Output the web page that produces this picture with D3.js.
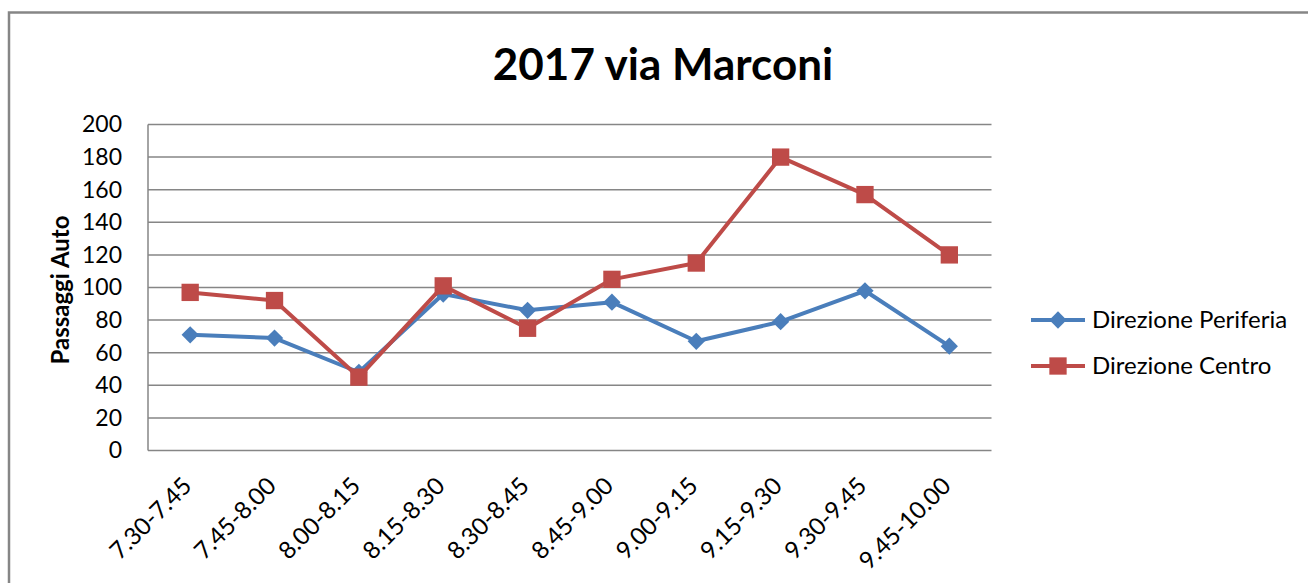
<!DOCTYPE html>
<html><head><meta charset="utf-8">
<script src="https://cdn.jsdelivr.net/npm/d3@7"></script>
<style>body{margin:0;background:#fff;}svg{display:block;}text{font-family:Lato,"Open Sans",sans-serif;fill:#000;}</style>
</head><body><svg id="c" width="1308" height="583"></svg>
<script>
const categories = ["7.30-7.45","7.45-8.00","8.00-8.15","8.15-8.30","8.30-8.45","8.45-9.00","9.00-9.15","9.15-9.30","9.30-9.45","9.45-10.00"];
const periferia = [71,69,48,96,86,91,67,79,98,64];
const centro = [97,92,45,101,75,105,115,180,157,120];
const seriesNames = ["Direzione Periferia","Direzione Centro"];
const yTicks = [0,20,40,60,80,100,120,140,160,180,200];
const colors = ["#4A7EBB","#BE4B48"];
const titleText = "2017 via Marconi";
const yLabel = "Passaggi Auto";

const svg = d3.select("#c");
svg.append("rect").attr("x",9).attr("y",12.5).attr("width",1320).attr("height",600)
  .attr("fill","none").attr("stroke","#868686").attr("stroke-width",2.5);

const L=148, R=991.5, T=124.5, B=450.5;
const x = d3.scaleBand().domain(categories).range([L,R]);
const y = d3.scaleLinear().domain([0,200]).range([B,T]);

svg.append("text").attr("x",663).attr("y",80).attr("text-anchor","middle")
  .style("font-size","44px").style("font-weight","bold").text(titleText);

// gridlines
svg.append("g").selectAll("line").data(yTicks).join("line")
  .attr("x1",L).attr("x2",R).attr("y1",d=>y(d)).attr("y2",d=>y(d))
  .attr("stroke","#868686").attr("stroke-width",1.5);
svg.append("line").attr("x1",L).attr("x2",L).attr("y1",T).attr("y2",B).attr("stroke","#868686").attr("stroke-width",1.5);

// y axis
const ya = svg.append("g").attr("transform",`translate(${L},0)`).call(d3.axisLeft(y).tickValues(yTicks).tickSize(0).tickPadding(26));
ya.select(".domain").remove();
ya.selectAll("text").style("font-size","23px").style("font-family","Lato");

svg.append("text").attr("transform","translate(69,290) rotate(-90)").attr("text-anchor","middle")
  .style("font-size","24px").style("font-weight","bold").text(yLabel);

// x axis labels
const xa = svg.append("g").attr("transform",`translate(0,${B})`).call(d3.axisBottom(x).tickSize(0));
xa.select(".domain").remove();
xa.selectAll("text").style("font-size","24px").style("font-family","Lato")
  .attr("text-anchor","end").attr("dy",null).attr("y",0)
  .attr("transform","translate(3,37) rotate(-45)");

const cx = d => x(d) + x.bandwidth()/2;
const data = [periferia, centro];
const line = d3.line().x((v,i)=>cx(categories[i])).y(v=>y(v));
const diamond = d3.symbol().type(d3.symbolDiamond2).size(190);
const square = d3.symbol().type(d3.symbolSquare).size(300);

data.forEach((vals,si)=>{
  const g = svg.append("g");
  g.append("path").datum(vals).attr("d",line).attr("fill","none").attr("stroke",colors[si]).attr("stroke-width",4).attr("stroke-linejoin","round");
  g.selectAll("path.m").data(vals).join("path").attr("class","m")
    .attr("transform",(v,i)=>`translate(${cx(categories[i])},${y(v)})`)
    .attr("d", si===0 ? diamond() : square()).attr("fill",colors[si]);
});

// legend
const ly = [320,366];
seriesNames.forEach((n,i)=>{
  const g = svg.append("g").attr("transform",`translate(0,${ly[i]})`);
  g.append("line").attr("x1",1031).attr("x2",1085).attr("stroke",colors[i]).attr("stroke-width",4);
  g.append("path").attr("transform","translate(1058,0)").attr("d", i===0?diamond():square()).attr("fill",colors[i]);
  g.append("text").attr("x",1092).attr("y",8).style("font-size","24px").text(n);
});
</script></body></html>
